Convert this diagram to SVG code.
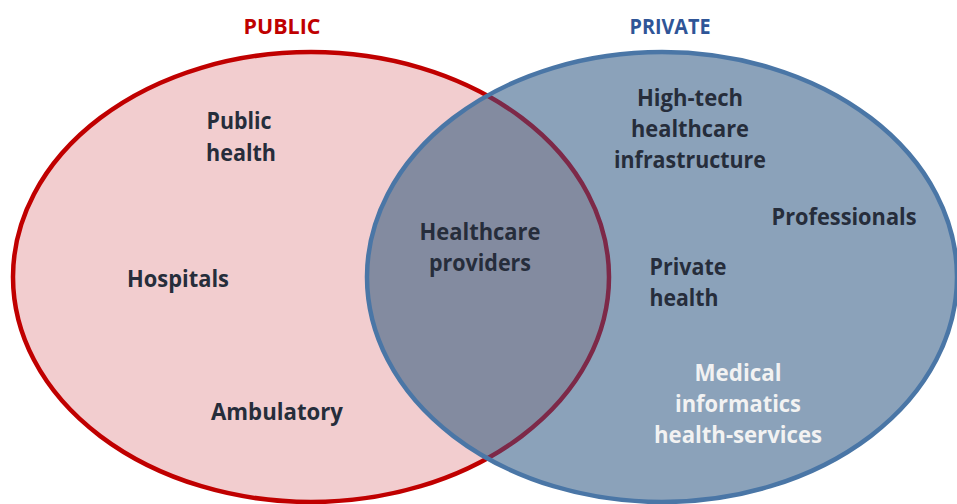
<svg xmlns="http://www.w3.org/2000/svg" width="957" height="504" viewBox="0 0 957 504">
  <style>
    .lbl { font-family: "Open Sans", "Liberation Sans", sans-serif; font-weight: 700; font-size: 23px; fill: #262d3b; text-anchor: middle; }
    .light { fill: #f2f2f2; }
    .title { font-family: "Open Sans", "Liberation Sans", sans-serif; font-weight: 700; font-size: 21px; text-anchor: middle; }
  </style>
  <defs>
    <ellipse id="pubShape" cx="311" cy="277" rx="298" ry="225"/>
    <ellipse id="privShape" cx="662" cy="277" rx="295" ry="225"/>
    <clipPath id="clipPriv"><use href="#privShape"/></clipPath>
  </defs>
  <rect width="957" height="504" fill="#ffffff"/>

  <!-- public set -->
  <g id="public">
    <use href="#pubShape" fill="#f2cdcf" stroke="#c00000" stroke-width="4.5"/>
  </g>

  <!-- private set, with the shared lens drawn inside it -->
  <g id="private">
    <use href="#privShape" fill="#8ba2ba"/>
    <g clip-path="url(#clipPriv)">
      <use href="#pubShape" fill="#838ba0" stroke="#7d2948" stroke-width="4.5"/>
    </g>
    <use href="#privShape" fill="none" stroke="#4a76a6" stroke-width="4.5"/>
  </g>

  <g id="titles">
    <text class="title" x="282" y="34" fill="#c00000" textLength="77" lengthAdjust="spacingAndGlyphs">PUBLIC</text>
    <text class="title" x="670" y="34" fill="#2f5597" textLength="81" lengthAdjust="spacingAndGlyphs">PRIVATE</text>
  </g>

  <g id="node-public-health">
    <text class="lbl" x="239" y="129" textLength="65" lengthAdjust="spacingAndGlyphs">Public</text>
    <text class="lbl" x="241" y="161" textLength="70" lengthAdjust="spacingAndGlyphs">health</text>
  </g>
  <g id="node-hospitals">
    <text class="lbl" x="178" y="287" textLength="102" lengthAdjust="spacingAndGlyphs">Hospitals</text>
  </g>
  <g id="node-ambulatory">
    <text class="lbl" x="277" y="420" textLength="132" lengthAdjust="spacingAndGlyphs">Ambulatory</text>
  </g>
  <g id="node-healthcare-providers">
    <text class="lbl" x="480" y="240" textLength="121" lengthAdjust="spacingAndGlyphs">Healthcare</text>
    <text class="lbl" x="480" y="271" textLength="102" lengthAdjust="spacingAndGlyphs">providers</text>
  </g>
  <g id="node-high-tech">
    <text class="lbl" x="690" y="106" textLength="106" lengthAdjust="spacingAndGlyphs">High-tech</text>
    <text class="lbl" x="690" y="137" textLength="118" lengthAdjust="spacingAndGlyphs">healthcare</text>
    <text class="lbl" x="690" y="168" textLength="152" lengthAdjust="spacingAndGlyphs">infrastructure</text>
  </g>
  <g id="node-professionals">
    <text class="lbl" x="844" y="225" textLength="145" lengthAdjust="spacingAndGlyphs">Professionals</text>
  </g>
  <g id="node-private-health">
    <text class="lbl" x="688" y="275" textLength="77" lengthAdjust="spacingAndGlyphs">Private</text>
    <text class="lbl" x="684" y="306" textLength="69" lengthAdjust="spacingAndGlyphs">health</text>
  </g>
  <g id="node-medical-informatics">
    <text class="lbl light" x="738" y="381" textLength="87" lengthAdjust="spacingAndGlyphs">Medical</text>
    <text class="lbl light" x="738" y="412" textLength="126" lengthAdjust="spacingAndGlyphs">informatics</text>
    <text class="lbl light" x="738" y="443" textLength="168" lengthAdjust="spacingAndGlyphs">health-services</text>
  </g>

  <g id="connectors"/>
</svg>
